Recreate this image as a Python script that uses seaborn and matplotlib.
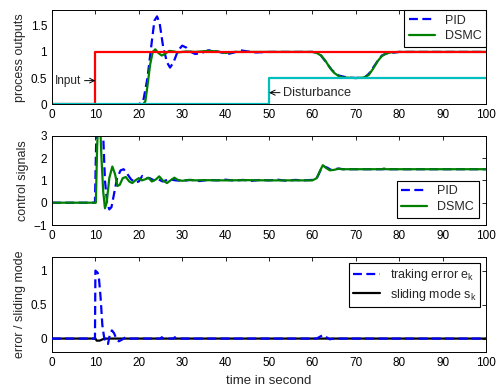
import numpy as np
import pandas as pd
import matplotlib
matplotlib.use("Agg")
import matplotlib.pyplot as plt
import seaborn as sns

sns.set_style("white")
plt.rcParams['font.family'] = ['Liberation Sans', 'DejaVu Sans']
plt.rcParams['mathtext.default'] = 'regular'
plt.rcParams['font.size'] = 8.5

########################################
# data
########################################
# reference input / disturbance (steps)
t_input = [0, 10, 10, 100]
y_input = [0, 0, 1, 1]
t_dist = [0, 50, 50, 100]
y_dist = [0, 0, 0.5, 0.5]

# process output, PID
t_out_pid = [0, 20, 21, 22, 23, 23.6, 24.2, 24.8, 25.6, 26.5, 27.2, 28, 29, 30, 31, 32,
             33, 34.5, 36, 37.5, 39, 40.5, 42, 43.5, 45, 47, 50, 60, 61, 62, 63, 64.5,
             66, 68, 70, 72, 73, 74, 75, 76, 77, 79, 80, 100]
y_out_pid = [0, 0, 0.05, 0.5, 1.2, 1.6, 1.68, 1.55, 1.1, 0.8, 0.7, 0.8, 1.02, 1.12, 1.08, 1.0,
             0.96, 0.98, 1.03, 1.02, 0.99, 0.96, 0.99, 1.03, 1.01, 0.99, 1.0, 1.0, 0.99, 0.93, 0.82, 0.65,
             0.55, 0.51, 0.5, 0.51, 0.58, 0.7, 0.82, 0.93, 0.97, 0.99, 1.0, 1.0]

# process output, DSMC
t_out_dsmc = [0, 21, 21.5, 22, 22.6, 23.2, 23.8, 24.5, 25.3, 26, 27, 28, 29, 31, 33, 36,
              38, 40, 42, 60, 61, 62, 63, 64, 65, 66, 67, 70, 72, 73, 74, 75, 76, 77, 78, 80, 100]
y_out_dsmc = [0, 0, 0.05, 0.35, 0.75, 1.0, 1.05, 0.98, 0.93, 0.96, 1.02, 1.01, 0.99, 1.01, 1.0, 1.02,
              1.01, 0.98, 1.0, 1.0, 0.98, 0.93, 0.83, 0.7, 0.6, 0.54, 0.51, 0.5, 0.51, 0.56, 0.68, 0.82,
              0.92, 0.97, 0.99, 1.0, 1.0]

# control signal, PID
t_u_pid = [0, 9.9, 10.1, 10.4, 11.5, 11.8, 12.2, 12.7, 13.2, 13.7, 14.3, 15.0, 15.8, 16.5,
           17.3, 18.2, 19.2, 20.0, 20.8, 21.5, 22.5, 23.5, 24.5, 25.5, 27, 28.5, 30, 32, 34,
           36, 38, 40, 42, 44, 46, 48, 50, 52, 54, 56, 58, 60, 61, 62, 62.6, 63.3, 64.3, 65.2,
           66, 67, 100]
y_u_pid = [0, 0, 2.0, 4.5, 4.5, 3.0, 1.0, 0.0, -0.3, -0.2, 0.4, 1.1, 1.45, 1.5,
           1.3, 1.05, 0.9, 0.95, 1.2, 1.1, 1.1, 1.0, 1.05, 0.95, 1.05, 1.0, 0.98, 1.02, 0.97,
           1.02, 1.0, 1.03, 0.99, 1.02, 0.98, 1.02, 1.0, 1.03, 0.98, 1.02, 1.0, 1.02, 1.1, 1.5,
           1.62, 1.58, 1.47, 1.5, 1.53, 1.5, 1.5]

# control signal, DSMC
t_u_dsmc = [0, 10.1, 10.4, 10.6, 11.1, 11.4, 11.8, 12.2, 12.6, 13.2, 13.9, 14.5, 15.1, 15.6,
            16.3, 17.0, 17.8, 18.5, 19.2, 20, 20.7, 21.5, 22.2, 23, 24, 24.7, 25.5, 26.5, 27.3,
            28.2, 29, 30, 31.5, 33, 35, 40, 45, 50, 55, 60, 61, 61.8, 62.4, 63.2, 64, 65, 66,
            67, 76, 76.5, 77, 100]
y_u_dsmc = [0, 0, 2.5, 3.5, 3.5, 2.0, 0.5, -0.25, 0.0, 1.1, 1.62, 1.3, 0.75, 0.8,
            1.1, 1.15, 0.95, 0.88, 1.0, 1.1, 1.0, 1.05, 1.12, 0.95, 1.05, 1.18, 1.0, 0.88, 1.0,
            1.12, 1.02, 0.98, 1.02, 1.0, 1.01, 1.0, 1.01, 1.0, 1.0, 1.0, 1.1, 1.45, 1.68, 1.55,
            1.45, 1.47, 1.52, 1.5, 1.5, 1.53, 1.5, 1.5]

# tracking error and sliding mode
t_err = [0, 9.9, 10.0, 10.5, 10.8, 11.2, 11.6, 12.0, 12.5, 12.9, 13.3, 13.8, 14.3, 14.8,
         15.4, 16, 17, 18, 25, 25.3, 25.6, 28, 28.3, 28.6, 61, 61.8, 62.4, 63.2, 64, 65, 100]
y_err = [0, 0, 1.0, 0.97, 0.9, 0.6, 0.2, 0.02, -0.07, -0.08, 0.05, 0.12, 0.08, 0.0,
         -0.04, -0.02, 0.02, 0.0, 0.0, 0.02, 0.0, 0.0, 0.02, 0.0, 0, 0.03, 0.05, 0.02, -0.01, 0, 0]
t_slide = [0, 10, 10.3, 11, 11.7, 12.3, 100]
y_slide = [0, 0, -0.03, -0.03, -0.01, 0, 0]

xticks = list(range(0, 101, 10))

########################################
# figure
########################################
fig = plt.figure(figsize=(5, 3.9), dpi=100)
ax1 = fig.add_axes([0.104, 0.733, 0.868, 0.241])
ax2 = fig.add_axes([0.104, 0.423, 0.868, 0.229])
ax3 = fig.add_axes([0.104, 0.097, 0.868, 0.244])

blue = '#0000ff'
green = '#008000'
lw = 1.6
dash = (4, 2)

def line(ax, t, y, **kw):
    sns.lineplot(x=t, y=y, ax=ax, estimator=None, sort=False, **kw)

# panel 1
line(ax1, t_out_pid, y_out_pid, color=blue, dashes=dash, lw=lw, label='PID')
line(ax1, t_out_dsmc, y_out_dsmc, color=green, lw=lw, label='DSMC')
line(ax1, t_input, y_input, color='#ff0000', lw=lw)
line(ax1, t_dist, y_dist, color='#00bfbf', lw=lw)
ax1.annotate('Input', xy=(10, 0.45), xytext=(0.7, 0.45), ha='left', va='center',
             fontsize=8.5,
             arrowprops=dict(arrowstyle='->', color='k', lw=0.7, shrinkA=0, shrinkB=0))
ax1.annotate('Disturbance', xy=(50, 0.22), xytext=(53.3, 0.22), ha='left', va='center',
             fontsize=9.2,
             arrowprops=dict(arrowstyle='->', color='k', lw=0.7, shrinkA=0, shrinkB=0))
ax1.set_ylim(0, 1.8)
ax1.set_yticks([0, 0.5, 1, 1.5])
ax1.set_yticklabels(['0', '0.5', '1', '1.5'])
ax1.set_ylabel('process outputs')

# panel 2
line(ax2, t_u_pid, y_u_pid, color=blue, dashes=dash, lw=lw, label='PID')
line(ax2, t_u_dsmc, y_u_dsmc, color=green, lw=lw, label='DSMC')
ax2.set_ylim(-1, 3)
ax2.set_yticks([-1, 0, 1, 2, 3])
ax2.set_ylabel('control signals')

# panel 3
line(ax3, t_err, y_err, color=blue, dashes=dash, lw=lw, label='traking error e$_k$', zorder=3)
line(ax3, t_slide, y_slide, color='k', lw=lw, label='sliding mode s$_k$', zorder=2)
ax3.set_ylim(-0.2, 1.2)
ax3.set_yticks([0, 0.5, 1])
ax3.set_yticklabels(['0', '0.5', '1'])
ax3.set_ylabel('error / sliding mode')

legend_opts = {ax1: ('upper right', 0.0), ax2: ('lower right', 0.6), ax3: ('upper right', 0.45)}
for ax in (ax1, ax2, ax3):
    ax.set_xlim(0, 100)
    ax.set_xticks(xticks)
    ax.tick_params(direction='in', top=True, right=True, length=3, width=0.6,
                   labelsize=8.5, colors='k', pad=3.5)
    for s in ax.spines.values():
        s.set_color('k')
        s.set_linewidth(0.7)
    ax.set_ylabel(ax.get_ylabel(), fontsize=9, labelpad=3)
    loc, pad = legend_opts[ax]
    leg = ax.legend(loc=loc, fancybox=False, edgecolor='k', framealpha=1,
                    fontsize=9, handlelength=2.1, labelspacing=0.3,
                    borderpad=0.35, borderaxespad=pad)
    leg.get_frame().set_linewidth(0.8)

ax3.set_xlabel('time in second', fontsize=9.5, labelpad=4)

fig.savefig('out.png', dpi=100)
